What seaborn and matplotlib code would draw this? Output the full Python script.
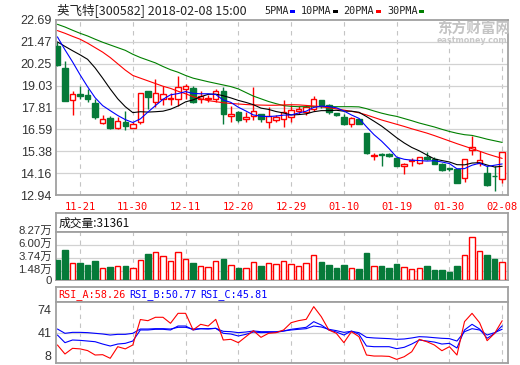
import matplotlib
matplotlib.use('Agg')
import matplotlib.pyplot as plt
from matplotlib.patches import Rectangle
from matplotlib.transforms import ScaledTranslation
import numpy as np
import pandas as pd
import seaborn as sns

sns.set_theme(style='white')
plt.rcParams['font.family'] = ['Liberation Sans', 'Noto Sans CJK SC', 'DejaVu Sans']
plt.rcParams['axes.unicode_minus'] = False

# ---------------- data ----------------
dates = ['11-16', '11-17', '11-20', '11-21', '11-22', '11-23', '11-24', '11-27', '11-28', '11-29',
         '11-30', '12-01', '12-04', '12-05', '12-06', '12-07', '12-08', '12-11', '12-12', '12-13',
         '12-14', '12-15', '12-18', '12-19', '12-20', '12-21', '12-22', '12-25', '12-26', '12-27',
         '12-28', '12-29', '01-02', '01-03', '01-04', '01-05', '01-08', '01-09', '01-10', '01-11',
         '01-12', '01-15', '01-16', '01-17', '01-18', '01-19', '01-22', '01-23', '01-24', '01-25',
         '01-26', '01-29', '01-30', '01-31', '02-01', '02-02', '02-05', '02-06', '02-07', '02-08']
tick_dates = ['11-21', '11-30', '12-11', '12-20', '12-29', '01-10', '01-19', '01-30', '02-08']

opens = [21.23, 20.03, 18.24, 18.57, 18.53, 18.09, 16.94, 17.24, 16.65, 17.02,
         16.70, 16.98, 18.75, 18.13, 18.27, 18.31, 18.31, 18.86, 18.90, 18.27,
         18.31, 18.27, 18.74, 17.33, 17.57, 17.20, 17.35, 17.48, 17.02, 17.11,
         17.20, 17.29, 17.63, 17.57, 17.75, 18.25, 17.94, 17.53, 17.29, 16.92,
         17.16, 16.37, 15.11, 15.22, 15.22, 14.99, 14.55, 14.83, 14.72, 15.08,
         14.96, 14.68, 14.44, 14.38, 13.86, 15.42, 14.72, 14.16, 14.01, 13.81]
highs = [21.47, 20.40, 18.75, 19.01, 18.82, 18.27, 17.42, 17.35, 17.27, 17.64,
         16.98, 18.65, 18.75, 19.42, 18.99, 18.63, 19.57, 19.14, 19.01, 18.71,
         18.53, 18.86, 18.96, 17.91, 17.60, 17.57, 18.96, 17.48, 17.85, 17.38,
         18.21, 17.94, 17.89, 17.94, 18.44, 18.25, 18.03, 17.53, 17.48, 17.29,
         17.20, 16.37, 15.30, 15.26, 15.30, 15.08, 14.70, 15.01, 15.06, 15.33,
         15.06, 14.72, 14.44, 14.38, 14.97, 16.24, 15.37, 14.55, 14.55, 15.35]
lows = [20.11, 18.18, 17.38, 18.27, 18.13, 17.20, 16.87, 16.61, 16.61, 16.55,
        16.68, 16.92, 17.75, 17.85, 17.94, 17.94, 17.91, 18.31, 18.09, 18.09,
        18.13, 18.13, 16.87, 17.02, 17.02, 17.02, 17.10, 17.02, 16.68, 17.02,
        16.74, 17.02, 17.48, 17.38, 17.60, 17.79, 17.48, 17.35, 16.83, 16.74,
        16.87, 15.22, 14.89, 14.55, 15.04, 14.57, 14.11, 14.55, 14.68, 14.90,
        14.66, 14.29, 14.27, 13.59, 13.68, 15.18, 14.55, 13.42, 13.18, 13.59]
closes = [20.16, 18.18, 18.57, 18.44, 18.27, 17.26, 17.20, 16.65, 17.09, 16.76,
          16.92, 18.63, 18.42, 18.63, 18.57, 18.36, 18.96, 18.99, 18.13, 18.46,
          18.36, 18.74, 17.48, 17.48, 17.11, 17.29, 17.63, 17.16, 17.35, 17.26,
          17.57, 17.66, 17.72, 17.85, 18.31, 17.90, 17.57, 17.38, 16.92, 17.24,
          16.92, 15.26, 15.15, 15.15, 15.11, 14.57, 14.68, 14.88, 15.06, 14.94,
          14.68, 14.35, 14.40, 13.63, 14.97, 15.63, 14.90, 13.51, 13.98, 15.35]

ma5 = [21.75, 21.03, 20.36, 19.64, 18.97, 18.36, 17.92, 17.64, 17.37, 17.14,
       16.98, 17.18, 17.56, 17.92, 18.27, 18.52, 18.59, 18.70, 18.60, 18.58,
       18.58, 18.54, 18.23, 18.10, 17.83, 17.62, 17.40, 17.33, 17.31, 17.34,
       17.39, 17.40, 17.51, 17.61, 17.82, 17.89, 17.87, 17.80, 17.62, 17.40,
       17.21, 16.74, 16.30, 15.94, 15.52, 15.05, 14.93, 14.88, 14.86, 14.83,
       14.85, 14.78, 14.69, 14.40, 14.41, 14.60, 14.71, 14.53, 14.60, 14.67]
ma10 = [21.47, 21.22, 20.98, 20.75, 20.50, 20.02, 19.45, 18.85, 18.30, 17.86,
        17.53, 17.58, 17.56, 17.58, 17.61, 17.72, 17.90, 18.13, 18.24, 18.41,
        18.55, 18.56, 18.47, 18.35, 18.21, 18.10, 17.97, 17.78, 17.71, 17.59,
        17.51, 17.40, 17.42, 17.46, 17.58, 17.64, 17.64, 17.66, 17.61, 17.61,
        17.55, 17.31, 17.05, 16.78, 16.46, 16.13, 15.84, 15.59, 15.40, 15.17,
        14.95, 14.86, 14.78, 14.63, 14.62, 14.72, 14.74, 14.61, 14.50, 14.54]
ma20 = [22.10, 21.95, 21.78, 21.62, 21.40, 21.15, 20.90, 20.60, 20.25, 19.90,
        19.60, 19.45, 19.30, 19.15, 19.00, 18.88, 18.72, 18.58, 18.42, 18.30,
        18.20, 18.14, 18.08, 18.04, 18.01, 17.98, 17.96, 17.95, 17.94, 17.94,
        17.96, 17.97, 17.96, 17.93, 17.90, 17.86, 17.80, 17.74, 17.67, 17.60,
        17.52, 17.40, 17.26, 17.12, 17.00, 16.88, 16.76, 16.63, 16.51, 16.39,
        16.25, 16.10, 15.95, 15.80, 15.66, 15.52, 15.38, 15.23, 15.10, 14.98]
ma30 = [22.45, 22.30, 22.12, 21.95, 21.80, 21.62, 21.45, 21.30, 21.15, 21.00,
        20.78, 20.60, 20.45, 20.30, 20.10, 19.92, 19.78, 19.60, 19.45, 19.35,
        19.25, 19.16, 19.07, 18.98, 18.85, 18.65, 18.45, 18.30, 18.15, 18.03,
        17.92, 17.88, 17.86, 17.86, 17.86, 17.86, 17.86, 17.86, 17.86, 17.86,
        17.85, 17.75, 17.62, 17.50, 17.40, 17.32, 17.20, 17.08, 16.95, 16.84,
        16.73, 16.60, 16.48, 16.38, 16.30, 16.26, 16.16, 16.05, 15.96, 15.87]

volume = [3.45, 5.17, 2.87, 2.93, 2.58, 3.27, 2.01, 2.24, 2.36, 2.41,
          2.01, 3.39, 4.48, 4.82, 4.08, 3.27, 4.77, 3.56, 2.93, 2.36,
          2.18, 3.27, 3.62, 2.58, 2.07, 2.07, 3.10, 2.41, 2.87, 2.70,
          3.22, 2.70, 2.36, 2.87, 4.25, 3.10, 2.58, 2.07, 2.58, 2.01,
          1.90, 4.65, 2.36, 2.41, 2.07, 2.76, 2.18, 1.84, 2.01, 2.41,
          1.72, 1.72, 1.38, 2.41, 4.25, 7.35, 5.00, 4.31, 3.62, 3.14]

rsi_a = [22.7, 9.5, 17.8, 17.0, 14.5, 8.0, 8.5, 3.2, 20.2, 17.0,
         22.7, 60.0, 58.3, 63.3, 63.3, 54.5, 69.1, 69.1, 44.7, 53.0,
         50.5, 60.3, 30.0, 31.0, 26.1, 34.9, 43.7, 33.9, 39.8, 40.7,
         44.7, 55.4, 58.4, 60.3, 78.9, 64.2, 44.7, 39.8, 26.1, 42.2,
         34.9, 8.0, 6.5, 6.5, 6.0, 1.6, 5.5, 12.8, 31.0, 27.5,
         22.7, 14.3, 20.2, 8.0, 56.9, 69.1, 55.4, 29.0, 39.8, 58.26]
rsi_b = [37.3, 26.1, 30.0, 29.5, 28.5, 27.5, 24.1, 21.2, 24.1, 25.1,
         28.5, 44.7, 44.7, 45.7, 45.7, 44.7, 50.5, 50.5, 44.7, 46.6,
         46.1, 47.1, 39.8, 38.8, 35.9, 38.3, 41.7, 40.8, 41.2, 41.2,
         43.2, 45.7, 47.1, 48.6, 56.9, 52.0, 44.7, 41.7, 37.3, 43.2,
         38.3, 21.2, 20.2, 20.2, 20.2, 17.3, 19.3, 24.1, 30.0, 28.5,
         27.0, 24.1, 25.1, 18.3, 44.7, 53.0, 46.1, 32.5, 39.8, 50.77]
rsi_c = [46.1, 39.8, 41.2, 41.2, 40.8, 39.8, 38.8, 37.3, 38.3, 38.3,
         39.8, 46.1, 46.1, 46.6, 46.6, 46.1, 48.6, 48.6, 46.1, 46.6,
         46.6, 47.1, 42.7, 42.2, 40.8, 41.7, 43.2, 42.2, 42.2, 42.2,
         43.2, 44.7, 45.7, 46.6, 50.5, 49.1, 45.7, 43.7, 41.2, 42.7,
         40.8, 33.9, 33.0, 32.5, 32.0, 31.0, 31.5, 33.0, 34.9, 34.4,
         33.4, 32.5, 32.0, 28.5, 42.2, 46.6, 44.7, 37.3, 40.8, 45.81]

price_ticks = [12.94, 14.16, 15.38, 16.59, 17.81, 19.03, 20.25, 21.47, 22.69]
vol_ticks = [0, 1.48, 3.74, 6.00, 8.27]
vol_tick_labels = ['0', '1.48万', '3.74万', '6.00万', '8.27万']
rsi_ticks = [8, 41, 74]
last_volume = '31361'

# ---------------- style ----------------
UP = '#ff0000'
DOWN = '#067a39'
FRAME = '#a0a0a0'
GRID = '#d2d2d2'
VGRID = '#c4c4c4'
W, H = 520, 365

fig = plt.figure(figsize=(W / 100, H / 100), dpi=100)
fig.patch.set_facecolor('white')


def add_ax(x0, y0, x1, y1):
    return fig.add_axes([x0 / W, 1 - y1 / H, (x1 - x0) / W, (y1 - y0) / H])


def ftext(x, y, s, **kw):
    fig.text(x / W, 1 - y / H, s, **kw)


n = len(dates)
idx = np.arange(n)
XL = (-0.19, n - 0.23)
tick_pos = [dates.index(d) for d in tick_dates]


def style(ax, vgrid=True):
    ax.set_xlim(*XL)
    ax.set_facecolor('white')
    for s in ax.spines.values():
        s.set_color(FRAME)
        s.set_linewidth(1.3)
    if vgrid:
        for t in tick_pos:
            ax.axvline(t, color=VGRID, lw=0.8, ls=(0, (4, 4)), zorder=0)
    ax.tick_params(length=0)
    ax.grid(False)


o = np.array(opens)
c = np.array(closes)
hi = np.array(highs)
lo = np.array(lows)
up = c >= o
cols = np.where(up, UP, DOWN)
fills = np.where(up, 'white', DOWN)

# ---------------- main price panel ----------------
ax = add_ax(56, 20, 508, 195)
style(ax)
df = pd.DataFrame({'i': idx, 'MA5': ma5, 'MA10': ma10, 'MA20': ma20, 'MA30': ma30})
ax.vlines(idx, lo, hi, colors=cols, lw=1.0, zorder=2)
ax.bar(idx, np.abs(c - o), bottom=np.minimum(o, c), width=0.72, color=fills,
       edgecolor=cols, linewidth=1.0, zorder=3)
for name, colr in [('MA30', '#008000'), ('MA20', '#ff0000'), ('MA10', '#000000'), ('MA5', '#0000ff')]:
    sns.lineplot(data=df, x='i', y=name, ax=ax, color=colr, lw=0.8, zorder=4, legend=False)
ax.set_xlabel('')
ax.set_ylabel('')
ax.set_ylim(price_ticks[0], price_ticks[-1])
for v in price_ticks[1:-1]:
    ax.axhline(v, color=GRID, lw=0.9, zorder=0)
ax.set_yticks(price_ticks)
ax.set_yticklabels([f'{v:.2f}' for v in price_ticks], fontsize=9, color='#333333')
ax.set_xticks(tick_pos)
ax.set_xticklabels(tick_dates, color=UP, fontsize=7.5, family='DejaVu Sans Mono')
ax.tick_params(axis='x', pad=5)
ax.tick_params(axis='y', pad=3)
ax.set_xlim(*XL)

# ---------------- volume header ----------------
axh = add_ax(56, 213, 508, 232)
style(axh, vgrid=False)
axh.set_xticks([])
axh.set_yticks([])
axh.text(0.006, 0.45, '成交量:' + last_volume, transform=axh.transAxes, va='center', ha='left',
         fontsize=8.5, family=['Noto Sans CJK SC'], color='#111111')

# ---------------- volume panel ----------------
axv = add_ax(56, 232, 508, 280)
style(axv)
axv.bar(idx, volume, width=0.72, color=fills, edgecolor=cols, linewidth=1.0, zorder=3)
axv.set_ylim(0, vol_ticks[-1])
for v in vol_ticks[1:-1]:
    axv.axhline(v, color=GRID, lw=0.9, zorder=0)
axv.set_yticks(vol_ticks)
axv.set_yticklabels(vol_tick_labels, fontsize=8.2, color='#333333')
axv.tick_params(axis='y', pad=3)
lift = ScaledTranslation(0, 1.6 / 72, fig.dpi_scale_trans)
for lab in axv.get_yticklabels()[1:]:
    lab.set_transform(lab.get_transform() + lift)
axv.set_xticks([])
axv.set_xlim(*XL)

# ---------------- RSI header ----------------
axr_h = add_ax(56, 287, 508, 302)
style(axr_h, vgrid=False)
axr_h.set_xticks([])
axr_h.set_yticks([])
ftext(58, 294.5, f'RSI_A:{rsi_a[-1]:.2f}', fontsize=7.3, family='DejaVu Sans Mono', color=UP, va='center')
ftext(129, 294.5, f'RSI_B:{rsi_b[-1]:.2f}', fontsize=7.3, family='DejaVu Sans Mono', color='#0000ff', va='center')
ftext(200, 294.5, f'RSI_C:{rsi_c[-1]:.2f}', fontsize=7.3, family='DejaVu Sans Mono', color='#0000ff', va='center')

# ---------------- RSI panel ----------------
axr = add_ax(56, 302, 508, 363)
style(axr)
axr.axhline(41, color=GRID, lw=0.9, zorder=0)
dfr = pd.DataFrame({'i': idx, 'A': rsi_a, 'B': rsi_b, 'C': rsi_c})
sns.lineplot(data=dfr, x='i', y='C', ax=axr, color='#0000ff', lw=0.8, legend=False)
sns.lineplot(data=dfr, x='i', y='B', ax=axr, color='#0000ff', lw=0.8, legend=False)
sns.lineplot(data=dfr, x='i', y='A', ax=axr, color='#ff0000', lw=0.8, legend=False)
axr.set_xlabel('')
axr.set_ylabel('')
axr.set_ylim(-3.7, 85.7)
axr.set_yticks(rsi_ticks)
axr.set_yticklabels([str(v) for v in rsi_ticks], fontsize=9, color='#333333')
axr.tick_params(axis='y', pad=3)
axr.set_xticks([])
axr.set_xlim(*XL)

# ---------------- title, legend, watermark ----------------
ftext(57, 10, '英飞特[300582] 2018-02-08 15:00', fontsize=9, family=['Noto Sans CJK SC'],
      color='#222222', va='center')
legend_items = [('5PMA', '#0000ff', 264, 290), ('10PMA', '#000000', 301, 333),
                ('20PMA', '#ff0000', 343, 376), ('30PMA', '#008000', 387, 419)]
for lab, colr, tx, mx in legend_items:
    ftext(tx, 10.5, lab, fontsize=7.3, family='DejaVu Sans Mono', color='#222222', va='center')
    fig.patches.append(Rectangle((mx / W, 1 - 12.5 / H), 5 / W, 3 / H, transform=fig.transFigure,
                                 facecolor=colr, edgecolor='none'))
ftext(437, 29, '东方财富网', fontsize=10.5, family=['Noto Sans CJK SC'], weight='bold',
      color='#c4c4c4', va='center', zorder=1)
ftext(437, 40.5, 'eastmoney.com', fontsize=5.8, family='DejaVu Sans', weight='bold',
      color='#c8c8c8', va='center', zorder=1)

fig.savefig('out.png', dpi=100, facecolor='white')
